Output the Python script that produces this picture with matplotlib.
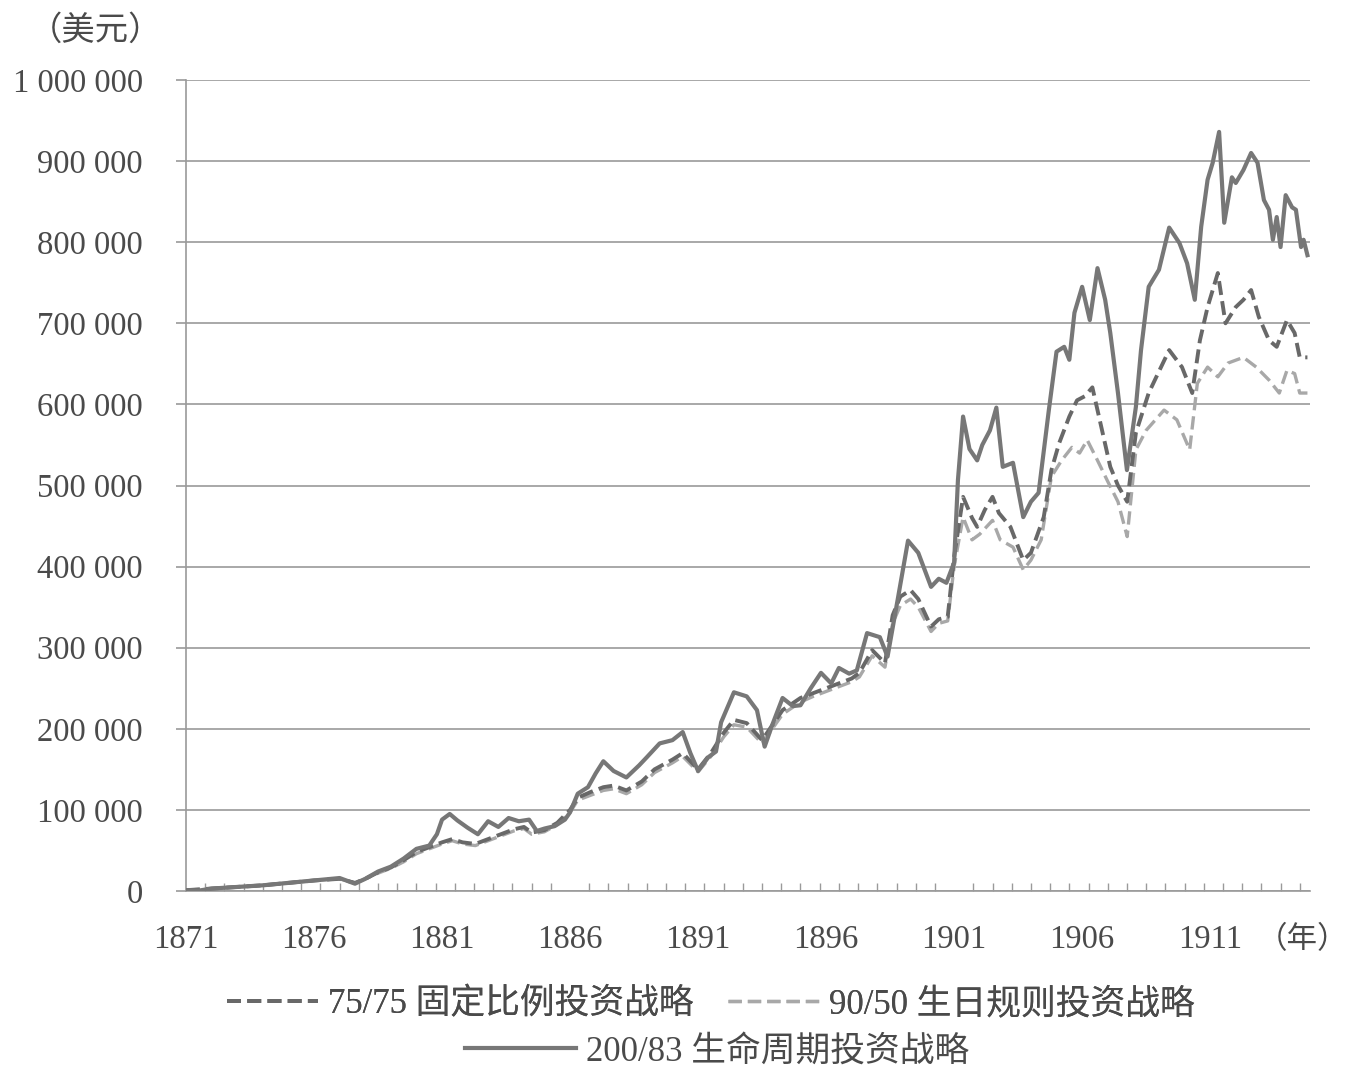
import numpy as np
import matplotlib
matplotlib.use("Agg")
import matplotlib.pyplot as plt
from matplotlib.ticker import FixedLocator

plt.rcParams['font.family'] = ['Liberation Serif', 'Noto Sans CJK SC']

# 200/83 lifecycle strategy (thousand USD)
yr_life = [1871.0, 1871.5, 1872.0, 1873.0, 1874.0, 1875.0, 1876.0, 1877.0, 1877.6, 1878.0,
           1878.5, 1879.0, 1879.5, 1880.0, 1880.5, 1880.8, 1881.0, 1881.3, 1881.6, 1882.0,
           1882.4, 1882.8, 1883.2, 1883.6, 1884.0, 1884.4, 1884.7, 1885.0, 1885.4, 1885.8,
           1886.0, 1886.3, 1886.7, 1887.0, 1887.3, 1887.7, 1888.2, 1888.7, 1889.0, 1889.5,
           1890.0, 1890.4, 1890.7, 1891.0, 1891.4, 1891.7, 1891.9, 1892.4, 1892.9, 1893.3,
           1893.6, 1893.9, 1894.3, 1894.7, 1895.0, 1895.4, 1895.8, 1896.2, 1896.5, 1896.9,
           1897.2, 1897.6, 1898.1, 1898.4, 1898.8, 1899.2, 1899.6, 1900.1, 1900.4, 1900.7,
           1901.0, 1901.15, 1901.35, 1901.6, 1901.9, 1902.1, 1902.4, 1902.65, 1902.9, 1903.3,
           1903.7, 1904.0, 1904.3, 1904.7, 1905.0, 1905.3, 1905.5, 1905.7, 1906.0, 1906.3,
           1906.6, 1906.9, 1907.1, 1907.4, 1907.75, 1908.1, 1908.3, 1908.6, 1909.0, 1909.4,
           1909.8, 1910.1, 1910.4, 1910.65, 1910.9, 1911.1, 1911.35, 1911.55, 1911.85, 1912.0,
           1912.3, 1912.6, 1912.85, 1913.1, 1913.3, 1913.45, 1913.6, 1913.75, 1913.95, 1914.2,
           1914.35, 1914.55, 1914.65, 1914.8]
val_life = [1, 0.5, 3, 5, 7, 10, 13, 16, 9, 15,
            24, 30, 40, 52, 56, 70, 88, 95, 87, 78,
            70, 86, 79, 90, 86, 88, 74, 77, 80, 88,
            97, 120, 128, 145, 160, 148, 140, 155, 165, 182,
            186, 196, 170, 148, 165, 172, 208, 245, 240, 223,
            178, 205, 238, 228, 229, 250, 269, 256, 275, 268,
            272, 318, 313, 289, 360, 432, 417, 375, 385, 380,
            405, 507, 585, 545, 531, 550, 568, 596, 523, 528,
            461, 480, 491, 593, 665, 671, 655, 713, 745, 704,
            768, 729, 688, 614, 519, 597, 667, 745, 766, 818,
            799, 774, 729, 819, 877, 898, 936, 824, 880, 873,
            889, 910, 898, 852, 840, 803, 831, 794, 858, 843,
            840, 794, 803, 784]

# 75/75 fixed ratio strategy
yr_fixed = [1871.0, 1872.0, 1873.0, 1874.0, 1875.0, 1876.0, 1877.0, 1877.6, 1878.0, 1878.5,
            1879.0, 1879.5, 1880.0, 1880.5, 1881.0, 1881.4, 1881.8, 1882.3, 1882.8, 1883.3,
            1883.8, 1884.2, 1884.5, 1885.0, 1885.5, 1886.0, 1886.3, 1886.8, 1887.3, 1887.7,
            1888.2, 1888.8, 1889.3, 1890.0, 1890.4, 1891.0, 1891.5, 1892.0, 1892.4, 1892.9,
            1893.5, 1894.3, 1895.0, 1895.5, 1896.0, 1896.5, 1897.0, 1897.3, 1897.8, 1898.3,
            1898.6, 1898.9, 1899.3, 1899.6, 1900.1, 1900.4, 1900.75, 1901.0, 1901.35, 1901.7,
            1901.9, 1902.2, 1902.5, 1902.75, 1903.2, 1903.7, 1904.0, 1904.5, 1904.8, 1905.1,
            1905.5, 1905.8, 1906.1, 1906.4, 1906.8, 1907.1, 1907.4, 1907.76, 1908.1, 1908.6,
            1908.9, 1909.4, 1909.9, 1910.3, 1910.6, 1910.9, 1911.3, 1911.6, 1912.0, 1912.3,
            1912.6, 1912.9, 1913.3, 1913.6, 1914.0, 1914.3, 1914.5, 1914.8]
val_fixed = [1, 3, 5, 7, 10, 13, 15, 10, 15, 23,
             29, 38, 48, 54, 60, 64, 60, 58, 64, 70,
             76, 79, 72, 75, 84, 100, 115, 122, 128, 130,
             124, 135, 150, 162, 170, 150, 170, 195, 211, 207,
             186, 223, 238, 244, 250, 256, 262, 269, 297, 281,
             340, 363, 371, 360, 326, 335, 338, 412, 486, 460,
             449, 470, 486, 466, 449, 408, 417, 461, 519, 552,
             585, 605, 610, 621, 565, 523, 500, 480, 565, 614,
             634, 667, 646, 614, 679, 720, 762, 700, 720, 729,
             741, 708, 679, 671, 704, 688, 658, 658]

# 90/50 birthday rule strategy
yr_birth = [1871.0, 1872.0, 1873.0, 1874.0, 1875.0, 1876.0, 1877.0, 1877.6, 1878.0, 1878.5,
            1879.0, 1879.5, 1880.0, 1880.5, 1881.0, 1881.4, 1881.8, 1882.3, 1882.8, 1883.3,
            1883.8, 1884.2, 1884.5, 1885.0, 1885.5, 1886.0, 1886.3, 1886.8, 1887.3, 1887.7,
            1888.2, 1888.8, 1889.3, 1890.0, 1890.4, 1891.0, 1891.5, 1892.0, 1892.4, 1892.9,
            1893.5, 1894.3, 1895.0, 1895.5, 1896.0, 1896.5, 1897.0, 1897.3, 1897.8, 1898.3,
            1898.6, 1898.9, 1899.3, 1899.6, 1900.1, 1900.4, 1900.75, 1901.0, 1901.35, 1901.7,
            1902.0, 1902.5, 1902.8, 1903.3, 1903.7, 1904.0, 1904.4, 1904.8, 1905.2, 1905.6,
            1905.9, 1906.2, 1906.6, 1907.0, 1907.4, 1907.76, 1908.1, 1908.5, 1909.2, 1909.7,
            1910.2, 1910.5, 1910.9, 1911.3, 1911.7, 1912.3, 1912.8, 1913.3, 1913.7, 1914.0,
            1914.3, 1914.5, 1914.8]
val_birth = [1, 3, 5, 7, 10, 13, 15, 10, 15, 22,
             28, 36, 46, 52, 58, 62, 58, 56, 62, 68,
             74, 77, 70, 73, 82, 97, 112, 118, 124, 126,
             120, 131, 146, 158, 166, 147, 166, 190, 205, 202,
             182, 218, 233, 240, 246, 252, 258, 264, 290, 276,
             330, 352, 360, 350, 320, 330, 333, 400, 461, 433,
             440, 457, 433, 424, 396, 408, 433, 511, 531, 547,
             540, 556, 531, 505, 480, 437, 544, 568, 593, 581,
             544, 626, 646, 634, 651, 658, 646, 630, 614, 642,
             638, 614, 614]

labels = ["75/75 固定比例投资战略", "90/50 生日规则投资战略", "200/83 生命周期投资战略"]
year_ticks = [1871, 1876, 1881, 1886, 1891, 1896, 1901, 1906, 1911]
y_ticks = [0, 100000, 200000, 300000, 400000, 500000, 600000, 700000, 800000, 900000, 1000000]
y_tick_labels = ["0", "100 000", "200 000", "300 000", "400 000", "500 000", "600 000",
                 "700 000", "800 000", "900 000", "1 000 000"]

txt = "#4a4a4a"
grid_c = "#9a9a9a"

fig = plt.figure(figsize=(13.52, 10.78), dpi=100)
ax = fig.add_axes([186 / 1352, 1 - 891 / 1078, (1310 - 186) / 1352, (891 - 80) / 1078])

l1, = ax.plot(yr_fixed, np.array(val_fixed) * 1000, color="#686868", lw=2.8,
              dashes=(3.6, 1.6), zorder=3)
l2, = ax.plot(yr_birth, np.array(val_birth) * 1000, color="#a8a8a8", lw=2.4,
              dashes=(4.0, 1.8), zorder=2)
l3, = ax.plot(yr_life, np.array(val_life) * 1000, color="#777777", lw=3.0, zorder=4)

ax.set_xlim(1871, 1914.9)
ax.set_ylim(0, 1000000)
ax.set_yticks(y_ticks)
ax.set_yticklabels(y_tick_labels)
ax.yaxis.grid(True, color=grid_c, lw=1.2)
ax.set_axisbelow(True)
ax.set_xticks(year_ticks)
ax.xaxis.set_minor_locator(FixedLocator(np.arange(1871.75, 1915, 0.75)))
ax.tick_params(axis="x", which="major", length=0, pad=24, labelsize=23.5, labelcolor=txt)
ax.tick_params(axis="x", which="minor", direction="in", length=6, color=grid_c, width=1)
ax.tick_params(axis="y", which="major", direction="out", length=7, color=grid_c, width=1.2,
               pad=24, labelsize=23.5, labelcolor=txt)
for side in ["top", "right"]:
    ax.spines[side].set_visible(False)
for side in ["left", "bottom"]:
    ax.spines[side].set_color(grid_c)
    ax.spines[side].set_linewidth(1.2)

fig.text(96 / 1352, 1 - 30 / 1078, "（美元）", ha="center", va="center", fontsize=24,
         color=txt, family=["Noto Sans CJK SC"])
fig.text(1302 / 1352, 1 - 940 / 1078, "（年）", ha="center", va="center", fontsize=22,
         color=txt, family=["Noto Sans CJK SC"])

leg1 = fig.legend([l1, l2], labels[:2], loc="center", bbox_to_anchor=(711 / 1352, 1 - 1005 / 1078),
                  ncol=2, frameon=False, fontsize=25, handlelength=2.6, columnspacing=1.0,
                  handletextpad=0.3, labelcolor=txt)
leg2 = fig.legend([l3], labels[2:], loc="center", bbox_to_anchor=(717 / 1352, 1 - 1052 / 1078),
                  frameon=False, fontsize=25, handlelength=3.2, handletextpad=0.3, labelcolor=txt)
fig.add_artist(leg1)

fig.savefig("out.png", dpi=100, facecolor="white")
